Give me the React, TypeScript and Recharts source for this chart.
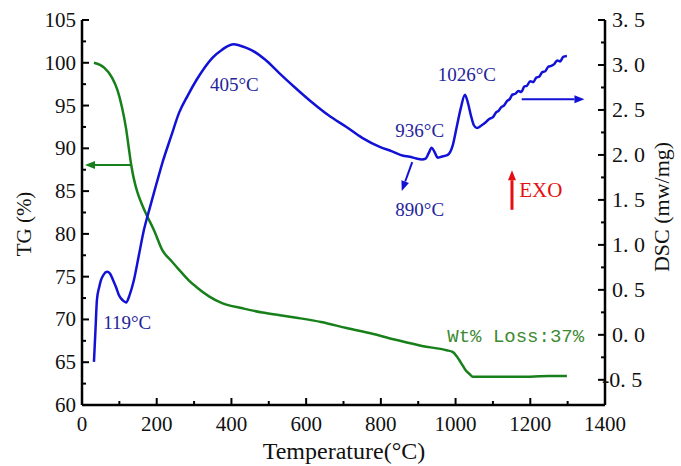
import { LineChart, Line, XAxis, YAxis, ReferenceLine, ReferenceDot, Label } from 'recharts';

// TG curve (weight %)
const tgTemp = [32, 60, 80, 95, 107, 118, 126, 132, 139, 148, 160, 172, 193, 215, 240, 260, 285, 306, 340, 375, 430, 483, 530, 574, 640, 708, 780, 842, 910, 976, 992, 1003, 1015, 1028, 1038, 1046, 1080, 1120, 1153, 1200, 1250, 1298];
const tgValue = [100, 99.4, 98.3, 96.8, 94.8, 92.3, 89.8, 88.0, 86.4, 84.9, 83.5, 82.3, 80.4, 78.1, 76.8, 75.8, 74.6, 73.8, 72.7, 71.9, 71.3, 70.8, 70.5, 70.2, 69.7, 69.0, 68.3, 67.6, 66.9, 66.4, 66.2, 65.7, 64.9, 64.0, 63.6, 63.3, 63.3, 63.3, 63.3, 63.3, 63.4, 63.4];

// DSC curve (mW/mg)
const dscTemp = [32, 36, 40, 46, 51, 58, 67, 75, 83, 92, 99, 110, 118, 128, 139, 152, 166, 180, 198, 215, 238, 260, 283, 306, 328, 349, 375, 390, 405, 420, 440, 456, 490, 528, 570, 617, 660, 708, 750, 797, 830, 860, 877, 895, 910, 920, 928, 936, 944, 952, 962, 979, 992, 1003, 1014, 1025, 1033, 1041, 1049, 1057, 1070, 1080, 1090, 1100, 1108, 1115, 1122, 1130, 1138, 1145, 1152, 1160, 1168, 1176, 1184, 1191, 1200, 1208, 1216, 1224, 1232, 1240, 1248, 1256, 1264, 1272, 1280, 1288, 1298];
const dscValue = [-0.30, 0.05, 0.39, 0.53, 0.61, 0.67, 0.70, 0.68, 0.61, 0.52, 0.44, 0.38, 0.36, 0.45, 0.61, 0.88, 1.17, 1.39, 1.66, 1.91, 2.20, 2.47, 2.66, 2.83, 2.97, 3.08, 3.17, 3.21, 3.23, 3.22, 3.19, 3.16, 3.06, 2.91, 2.75, 2.58, 2.44, 2.31, 2.19, 2.09, 2.04, 1.99, 1.98, 1.96, 1.95, 1.96, 2.02, 2.08, 2.03, 1.97, 1.98, 2.00, 2.10, 2.31, 2.52, 2.67, 2.58, 2.44, 2.33, 2.30, 2.33, 2.36, 2.40, 2.42, 2.47, 2.49, 2.53, 2.55, 2.60, 2.62, 2.67, 2.68, 2.71, 2.70, 2.76, 2.77, 2.82, 2.81, 2.86, 2.87, 2.92, 2.93, 2.98, 2.99, 3.01, 3.05, 3.04, 3.09, 3.10];

const xTicks = [0, 100, 200, 300, 400, 500, 600, 700, 800, 900, 1000, 1100, 1200, 1300, 1400];
const tgTicks = [60, 62.5, 65, 67.5, 70, 72.5, 75, 77.5, 80, 82.5, 85, 87.5, 90, 92.5, 95, 97.5, 100, 102.5, 105];
const dscTicks = [-0.5, -0.25, 0, 0.25, 0.5, 0.75, 1, 1.25, 1.5, 1.75, 2, 2.25, 2.5, 2.75, 3, 3.25, 3.5];

const tgData = tgTemp.map((t, i) => ({ t, tg: tgValue[i] }));
const dscData = dscTemp.map((t, i) => ({ t, dsc: dscValue[i] }));

const SERIF = '"Liberation Serif", "Times New Roman", serif';
const GREEN = '#17801a';
const BLUE = '#1212d6';
const NAVY = '#24249a';
const RED = '#e41010';

function XTick({ x, y, payload }: any) {
  const major = payload.value % 200 === 0;
  const axisY = y - 4;
  return (
    <g>
      <line x1={x} x2={x} y1={axisY} y2={axisY - (major ? 7 : 4)} stroke="#000" strokeWidth={2} />
      {major && (
        <text x={x} y={axisY + 26} textAnchor="middle" fontFamily={SERIF} fontSize={21} fill="#111">
          {payload.value}
        </text>
      )}
    </g>
  );
}

function TgTick({ x, y, payload }: any) {
  const major = payload.value % 5 === 0;
  const axisX = x + 4;
  return (
    <g>
      <line x1={axisX} x2={axisX + (major ? 7 : 4)} y1={y} y2={y} stroke="#000" strokeWidth={2} />
      {major && (
        <text x={axisX - 6} y={y + 7} textAnchor="end" fontFamily={SERIF} fontSize={21} fill="#111">
          {payload.value}
        </text>
      )}
    </g>
  );
}

function DscTick({ x, y, payload }: any) {
  const v = payload.value;
  const major = Math.abs((v * 2) % 1) < 1e-6;
  const axisX = x - 4;
  const txt = v.toFixed(1).replace('.', '. ');
  return (
    <g>
      <line x1={axisX} x2={axisX - (major ? 7 : 4)} y1={y} y2={y} stroke="#000" strokeWidth={2} />
      {major && (
        <text x={axisX + (v < 0 ? -3 : 7)} y={y + 7} textAnchor="start" fontFamily={SERIF} fontSize={22} fill="#111">
          {v < 0 ? '-' + txt.slice(1) : txt}
        </text>
      )}
    </g>
  );
}

function arrowShape(color: string, width = 2) {
  return (props: any) => {
    const { x1, y1, x2, y2 } = props;
    const ang = Math.atan2(y2 - y1, x2 - x1);
    const L = 10;
    const W = 4;
    const bx = x2 - L * Math.cos(ang);
    const by = y2 - L * Math.sin(ang);
    const px = -Math.sin(ang) * W;
    const py = Math.cos(ang) * W;
    return (
      <g>
        <line x1={x1} y1={y1} x2={bx} y2={by} stroke={color} strokeWidth={width} />
        <polygon points={`${x2},${y2} ${bx + px},${by + py} ${bx - px},${by - py}`} fill={color} />
      </g>
    );
  };
}

function textShape(label: string, color: string, size = 19, family = SERIF) {
  return (props: any) => (
    <text x={props.cx} y={props.cy} textAnchor="middle" dominantBaseline="central" fontFamily={family} fontSize={size} fill={color}>
      {label}
    </text>
  );
}

export default function App() {
  return (
    <div style={{ position: 'absolute', left: 0, top: 0, background: '#fff' }}>
      <LineChart width={681} height={466} margin={{ top: 20, right: 0, bottom: 0, left: 0 }}>
        <XAxis
          xAxisId="x"
          dataKey="t"
          type="number"
          domain={[0, 1400]}
          ticks={xTicks}
          interval={0}
          height={61}
          tickSize={0}
          tickMargin={4}
          tickLine={false}
          axisLine={{ stroke: '#000', strokeWidth: 2.5 }}
          tick={<XTick />}
          allowDataOverflow
        >
          <Label
            content={() => (
              <text x={344} y={459} textAnchor="middle" fontFamily={SERIF} fontSize={24} fill="#111">
                Temperature(°C)
              </text>
            )}
          />
        </XAxis>
        <XAxis xAxisId="top" orientation="top" type="number" domain={[0, 1400]} height={0} tick={false} tickLine={false} axisLine={{ stroke: '#000', strokeWidth: 2.5 }} />
        <YAxis
          yAxisId="tg"
          orientation="left"
          type="number"
          domain={[60, 105]}
          ticks={tgTicks}
          interval={0}
          width={82}
          tickSize={0}
          tickMargin={4}
          tickLine={false}
          axisLine={{ stroke: '#000', strokeWidth: 2.5 }}
          tick={<TgTick />}
          allowDataOverflow
        >
          <Label
            content={() => (
              <text x={0} y={0} transform="translate(31,224) rotate(-90)" textAnchor="middle" fontFamily={SERIF} fontSize={21} fill="#111">
                TG (%)
              </text>
            )}
          />
        </YAxis>
        <YAxis
          yAxisId="dsc"
          orientation="right"
          type="number"
          domain={[-0.78, 3.5]}
          ticks={dscTicks}
          interval={0}
          width={76}
          tickSize={0}
          tickMargin={4}
          tickLine={false}
          axisLine={{ stroke: '#000', strokeWidth: 2.5 }}
          tick={<DscTick />}
          allowDataOverflow
        >
          <Label
            content={() => (
              <text x={0} y={0} transform="translate(669,207) rotate(-90)" textAnchor="middle" fontFamily={SERIF} fontSize={22} fill="#111">
                DSC (mw/mg)
              </text>
            )}
          />
        </YAxis>

        <Line xAxisId="x" yAxisId="tg" data={tgData} dataKey="tg" type="monotone" stroke={GREEN} strokeWidth={2.5} dot={false} isAnimationActive={false} />
        <Line xAxisId="x" yAxisId="dsc" data={dscData} dataKey="dsc" type="monotone" stroke={BLUE} strokeWidth={2.5} dot={false} isAnimationActive={false} />

        {/* arrows */}
        <ReferenceLine xAxisId="x" yAxisId="tg" segment={[{ x: 131, y: 88.05 }, { x: 8, y: 88.05 }]} shape={arrowShape(GREEN)} ifOverflow="visible" />
        <ReferenceLine xAxisId="x" yAxisId="dsc" segment={[{ x: 1177, y: 2.62 }, { x: 1345, y: 2.62 }]} shape={arrowShape(BLUE)} ifOverflow="visible" />
        <ReferenceLine xAxisId="x" yAxisId="dsc" segment={[{ x: 884, y: 1.92 }, { x: 856, y: 1.6 }]} shape={arrowShape(BLUE)} ifOverflow="visible" />
        <ReferenceLine xAxisId="x" yAxisId="dsc" segment={[{ x: 1151, y: 1.39 }, { x: 1151, y: 1.83 }]} shape={arrowShape(RED, 3)} ifOverflow="visible" />

        {/* labels */}
        <ReferenceDot xAxisId="x" yAxisId="dsc" x={408} y={2.78} r={0} shape={textShape('405°C', NAVY)} ifOverflow="visible" />
        <ReferenceDot xAxisId="x" yAxisId="dsc" x={121} y={0.14} r={0} shape={textShape('119°C', NAVY)} ifOverflow="visible" />
        <ReferenceDot xAxisId="x" yAxisId="dsc" x={904} y={2.27} r={0} shape={textShape('936°C', NAVY)} ifOverflow="visible" />
        <ReferenceDot xAxisId="x" yAxisId="dsc" x={904} y={1.39} r={0} shape={textShape('890°C', NAVY)} ifOverflow="visible" />
        <ReferenceDot xAxisId="x" yAxisId="dsc" x={1030} y={2.89} r={0} shape={textShape('1026°C', NAVY)} ifOverflow="visible" />
        <ReferenceDot xAxisId="x" yAxisId="dsc" x={1228} y={1.61} r={0} shape={textShape('EXO', RED, 21)} ifOverflow="visible" />
        <ReferenceDot xAxisId="x" yAxisId="tg" x={1161} y={67.95} r={0} shape={textShape('Wt% Loss:37%', '#3c8a32', 19, '"Liberation Mono", monospace')} ifOverflow="visible" />
      </LineChart>
    </div>
  );
}
